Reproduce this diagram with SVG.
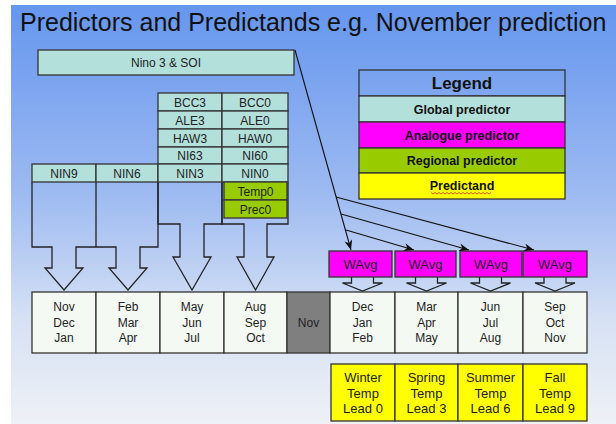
<svg xmlns="http://www.w3.org/2000/svg" width="616" height="424" viewBox="0 0 616 424">
<defs>
<linearGradient id="bg" x1="0" y1="0" x2="0" y2="1">
<stop offset="0" stop-color="#6596ee"/>
<stop offset="0.45" stop-color="#9dbaf1"/>
<stop offset="0.75" stop-color="#d6e1f4"/>
<stop offset="1" stop-color="#eef1f6"/>
</linearGradient>
<marker id="ah" viewBox="0 0 10 8" refX="10" refY="4" markerWidth="10" markerHeight="8" markerUnits="userSpaceOnUse" orient="auto">
<path d="M0,0 L10,4 L0,8 L3,4 Z" fill="#111"/>
</marker>
<style>
text{font-family:"Liberation Sans",Arial,sans-serif;fill:#222;text-anchor:middle}
.cell{stroke:#333;stroke-width:1.3}
.g{fill:#b4e0dc}
.r{fill:#99cc00}
.m{fill:#ff00ff}
.y{fill:#ffff00}
.mo{fill:#f4f9f4;stroke:#333;stroke-width:1.3}
.out{fill:none;stroke:#222;stroke-width:1.3}
.t12{font-size:12px}
.t13{font-size:13px}
.lg{font-size:12.5px;font-weight:bold;fill:#111}
.con{fill:none;stroke:#111;stroke-width:1.1}
</style>
</defs>
<rect x="11" y="5" width="605" height="419" fill="url(#bg)"/>
<text x="20" y="31" style="font-size:25px;text-anchor:start;fill:#111">Predictors and Predictands e.g. November prediction</text>

<g id="nino">
<rect class="cell g" x="38" y="50" width="256" height="25"/>
<text class="t12" x="166" y="67">Nino 3 &amp; SOI</text>
</g>

<g id="col-left">
<path class="out" d="M32,182 V247 H52 V268 H45 L64,290 L83,268 H76 V247 H116 V268 H109 L128,290 L147,268 H140 V247 H158 V182"/>
<path class="out" d="M96,182 V247"/>
<rect class="cell g" x="32" y="164" width="64" height="18"/>
<rect class="cell g" x="96" y="164" width="62" height="18"/>
<text class="t12" x="64" y="177.5">NIN9</text>
<text class="t12" x="127" y="177.5">NIN6</text>
</g>

<g id="col-mid">
<path class="out" d="M158,182 V224 H180 V257 H173 L192,290 L211,257 H204 V224 H222 V182"/>
<rect class="cell g" x="158" y="93" width="64" height="18"/>
<rect class="cell g" x="158" y="111" width="64" height="18"/>
<rect class="cell g" x="158" y="129" width="64" height="18"/>
<rect class="cell g" x="158" y="147" width="64" height="17"/>
<rect class="cell g" x="158" y="164" width="64" height="18"/>
<text class="t12" x="190" y="106.5">BCC3</text>
<text class="t12" x="190" y="124.5">ALE3</text>
<text class="t12" x="190" y="142.5">HAW3</text>
<text class="t12" x="190" y="160">NI63</text>
<text class="t12" x="190" y="177.5">NIN3</text>
</g>

<g id="col-right">
<path class="out" d="M222,182 V224 H244 V257 H237 L255.5,290 L274,257 H267 V224 H288 V182"/>
<rect class="cell g" x="222" y="93" width="66" height="18"/>
<rect class="cell g" x="222" y="111" width="66" height="18"/>
<rect class="cell g" x="222" y="129" width="66" height="18"/>
<rect class="cell g" x="222" y="147" width="66" height="17"/>
<rect class="cell g" x="222" y="164" width="66" height="18"/>
<rect class="cell r" x="224" y="182" width="63" height="18"/>
<rect class="cell r" x="224" y="200" width="63" height="18"/>
<text class="t12" x="255" y="106.5">BCC0</text>
<text class="t12" x="255" y="124.5">ALE0</text>
<text class="t12" x="255" y="142.5">HAW0</text>
<text class="t12" x="255" y="160">NI60</text>
<text class="t12" x="255" y="177.5">NIN0</text>
<text class="t12" x="255.5" y="195.5">Temp0</text>
<text class="t12" x="255.5" y="213.5">Prec0</text>
</g>

<g id="months">
<rect class="mo" x="32" y="292" width="64" height="61"/>
<rect class="mo" x="96" y="292" width="64" height="61"/>
<rect class="mo" x="160" y="292" width="64" height="61"/>
<rect class="mo" x="224" y="292" width="63" height="61"/>
<rect x="287" y="292" width="43" height="61" fill="#7f7f7f" stroke="#333" stroke-width="1.3"/>
<rect class="mo" x="330" y="292" width="65" height="61"/>
<rect class="mo" x="395" y="292" width="63" height="61"/>
<rect class="mo" x="458" y="292" width="65" height="61"/>
<rect class="mo" x="523" y="292" width="64" height="61"/>
<g class="t12">
<text x="64" y="311">Nov</text><text x="64" y="327">Dec</text><text x="64" y="342">Jan</text>
<text x="128" y="311">Feb</text><text x="128" y="327">Mar</text><text x="128" y="342">Apr</text>
<text x="192" y="311">May</text><text x="192" y="327">Jun</text><text x="192" y="342">Jul</text>
<text x="255.5" y="311">Aug</text><text x="255.5" y="327">Sep</text><text x="255.5" y="342">Oct</text>
<text x="308.5" y="327">Nov</text>
<text x="362.5" y="311">Dec</text><text x="362.5" y="327">Jan</text><text x="362.5" y="342">Feb</text>
<text x="426.5" y="311">Mar</text><text x="426.5" y="327">Apr</text><text x="426.5" y="342">May</text>
<text x="490.5" y="311">Jun</text><text x="490.5" y="327">Jul</text><text x="490.5" y="342">Aug</text>
<text x="555" y="311">Sep</text><text x="555" y="327">Oct</text><text x="555" y="342">Nov</text>
</g>
</g>

<g id="wavg">
<path class="out" d="M351.5,277 V283 H342.5 L362.5,291 L382.5,283 H373.5 V277"/>
<path class="out" d="M415.5,277 V283 H406.5 L426.5,291 L446.5,283 H437.5 V277"/>
<path class="out" d="M479.5,277 V283 H470.5 L490.5,291 L510.5,283 H501.5 V277"/>
<path class="out" d="M544,277 V283 H535 L555,291 L575,283 H566 V277"/>
<rect class="cell m" x="329" y="251" width="63" height="26"/>
<rect class="cell m" x="395" y="251" width="61" height="26"/>
<rect class="cell m" x="460" y="251" width="62" height="26"/>
<rect class="cell m" x="523" y="251" width="64" height="26"/>
<text class="t13" x="360.5" y="268.5">WAvg</text>
<text class="t13" x="425.5" y="268.5">WAvg</text>
<text class="t13" x="491" y="268.5">WAvg</text>
<text class="t13" x="555" y="268.5">WAvg</text>
</g>

<g id="predictands">
<rect class="cell y" x="331" y="364" width="64" height="57"/>
<rect class="cell y" x="395" y="364" width="63" height="57"/>
<rect class="cell y" x="458" y="364" width="65" height="57"/>
<rect class="cell y" x="523" y="364" width="64" height="57"/>
<g class="t13">
<text x="363" y="381.5">Winter</text><text x="363" y="397.5">Temp</text><text x="363" y="412.5">Lead 0</text>
<text x="426.5" y="381.5">Spring</text><text x="426.5" y="397.5">Temp</text><text x="426.5" y="412.5">Lead 3</text>
<text x="490.5" y="381.5">Summer</text><text x="490.5" y="397.5">Temp</text><text x="490.5" y="412.5">Lead 6</text>
<text x="555" y="381.5">Fall</text><text x="555" y="397.5">Temp</text><text x="555" y="412.5">Lead 9</text>
</g>
</g>

<g id="legend">
<rect class="cell" x="359" y="70" width="206" height="26" fill="none"/>
<rect class="cell g" x="359" y="96" width="206" height="26"/>
<rect class="cell m" x="359" y="122" width="206" height="26"/>
<rect class="cell r" x="359" y="148" width="206" height="25"/>
<rect class="cell y" x="359" y="173" width="206" height="26"/>
<text x="462" y="89" style="font-size:17px;font-weight:bold;fill:#111">Legend</text>
<text class="lg" x="462" y="113.5">Global predictor</text>
<text class="lg" x="462" y="139.5">Analogue predictor</text>
<text class="lg" x="462" y="164.5">Regional predictor</text>
<text class="lg" x="462" y="190">Predictand</text>
<path d="M431,192.5 l2,1.5 l2,-1.5 l2,1.5 l2,-1.5 l2,1.5 l2,-1.5 l2,1.5 l2,-1.5 l2,1.5 l2,-1.5 l2,1.5 l2,-1.5 l2,1.5 l2,-1.5 l2,1.5 l2,-1.5 l2,1.5 l2,-1.5 l2,1.5 l2,-1.5 l2,1.5 l2,-1.5 l2,1.5 l2,-1.5 l2,1.5 l2,-1.5 l2,1.5 l2,-1.5 l2,1.5 l2,-1.5" fill="none" stroke="#e03030" stroke-width="0.8"/>
</g>

<g id="connectors">
<path class="con" d="M295,50 L351,250" marker-end="url(#ah)"/>
<path class="con" d="M336,197 L534,250" marker-end="url(#ah)"/>
<path class="con" d="M341,214 L469,250" marker-end="url(#ah)"/>
<path class="con" d="M346,230 L414,250" marker-end="url(#ah)"/>
</g>
</svg>
